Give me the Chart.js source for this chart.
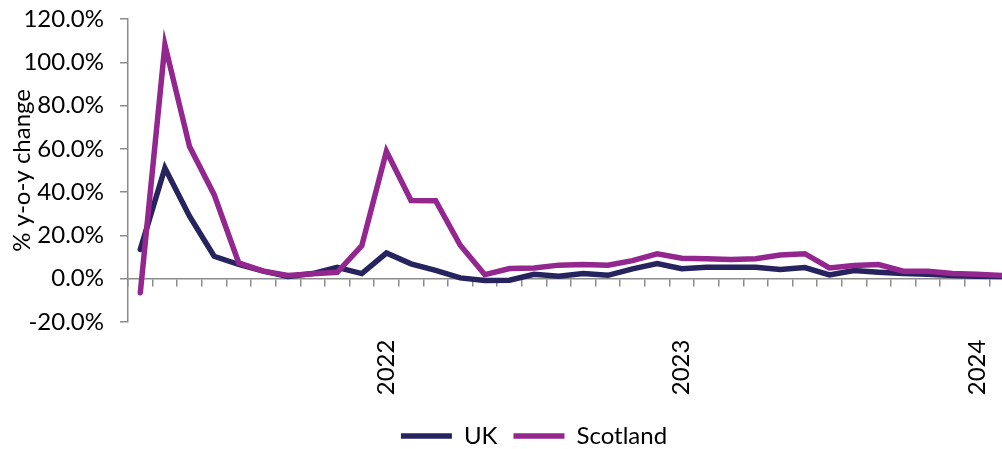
<!DOCTYPE html>
<html>
<head>
<meta charset="utf-8">
<script src="https://cdn.jsdelivr.net/npm/chart.js@4/dist/chart.umd.min.js"></script>
<style>
    html, body { margin: 0; padding: 0; background: #fff; overflow: hidden; }
    #wrap { width: 1016px; height: 458px; }
</style>
</head>
<body>
<div id="wrap"><canvas id="grafica"></canvas></div>
<script>
// Meses (marzo 2021 - febrero 2024)
const meses = [
    '2021-03', '2021-04', '2021-05', '2021-06', '2021-07', '2021-08', '2021-09', '2021-10', '2021-11', '2021-12',
    '2022-01', '2022-02', '2022-03', '2022-04', '2022-05', '2022-06', '2022-07', '2022-08', '2022-09', '2022-10', '2022-11', '2022-12',
    '2023-01', '2023-02', '2023-03', '2023-04', '2023-05', '2023-06', '2023-07', '2023-08', '2023-09', '2023-10', '2023-11', '2023-12',
    '2024-01', '2024-02'
];

// % y-o-y change
const uk = [13.5, 51.1, 28.8, 10.3, 6.5, 3.4, 1.0, 2.3, 5.2, 2.3, 11.8, 6.8, 3.8, 0.3, -0.9, -0.8, 2.0, 1.1, 2.3, 1.5,
    4.5, 6.9, 4.5, 5.2, 5.2, 5.2, 4.2, 5.1, 1.7, 3.7, 2.9, 2.3, 2.0, 1.4, 1.1, 0.9];
const scotland = [-6.6, 108.0, 61.0, 38.8, 7.2, 3.4, 1.4, 2.2, 2.9, 15.2, 58.8, 36.1, 36.0, 15.4, 1.8, 4.6, 4.9, 6.2, 6.5, 6.2,
    8.3, 11.4, 9.4, 9.1, 8.8, 9.2, 10.9, 11.5, 4.9, 6.0, 6.5, 3.4, 3.4, 2.3, 2.0, 1.4];

// Solo se muestra el año en enero
const etiquetasAnio = meses.map(m => m.endsWith('-01') ? m.slice(0, 4) : '');

const ejeGris = '#8c8c8c';
const fuente = "Lato, 'Open Sans', sans-serif";

// Mueve la leyenda un poco a la derecha, como en el original
const moverLeyenda = {
    id: 'moverLeyenda',
    afterLayout(chart) {
        chart.legend.left += 27;
        chart.legend.right += 27;
    }
};

new Chart(document.getElementById('grafica'), {
    type: 'line',
    data: {
        labels: meses,
        datasets: [{
            label: 'UK',
            data: uk,
            borderColor: '#27235f',
            backgroundColor: '#27235f',
            borderWidth: 5.5,
            borderCapStyle: 'round',
            pointRadius: 0,
            tension: 0,
            order: 1
        }, {
            label: 'Scotland',
            data: scotland,
            borderColor: '#93278f',
            backgroundColor: '#93278f',
            borderWidth: 5.5,
            borderCapStyle: 'round',
            pointRadius: 0,
            tension: 0,
            order: 0
        }]
    },
    plugins: [moverLeyenda],
    options: {
        responsive: true,
        maintainAspectRatio: false,
        animation: false,
        layout: { padding: { top: 19, right: 2, left: 0, bottom: 0 } },
        scales: {
            x: {
                type: 'category',
                position: { y: 0 },
                offset: true,
                grid: { offset: true, drawOnChartArea: false, drawTicks: true, tickLength: 7, color: ejeGris, lineWidth: 1.5 },
                border: { color: ejeGris, width: 1.5 },
                ticks: {
                    autoSkip: false,
                    maxRotation: 90,
                    minRotation: 90,
                    padding: 54,
                    color: '#000',
                    font: { family: fuente, size: 24 },
                    callback: (v, i) => etiquetasAnio[i]
                },
                afterFit: escala => { escala.paddingLeft = 0; escala.paddingRight = 0; }
            },
            y: {
                min: -20,
                max: 120,
                grid: { drawOnChartArea: false, drawTicks: true, tickLength: 8, color: ejeGris, lineWidth: 1.5 },
                border: { color: ejeGris, width: 1.5 },
                ticks: {
                    stepSize: 20,
                    padding: 16,
                    color: '#000',
                    font: { family: fuente, size: 24 },
                    callback: v => v.toFixed(1) + '%'
                },
                title: {
                    display: true,
                    text: '% y-o-y change',
                    color: '#000',
                    font: { family: fuente, size: 24 },
                    padding: { top: 8, bottom: 0 }
                },
                afterFit: escala => { escala.width = 128; escala.paddingTop = 0; escala.paddingBottom = 0; }
            }
        },
        plugins: {
            legend: {
                position: 'bottom',
                title: { display: true, text: '', font: { size: 1 }, padding: { top: 85, bottom: 0 } },
                labels: {
                    usePointStyle: true,
                    pointStyle: 'line',
                    pointStyleWidth: 51,
                    boxHeight: 24,
                    padding: 16,
                    color: '#000',
                    font: { family: fuente, size: 24 },
                    sort: (a, b) => a.datasetIndex - b.datasetIndex
                }
            },
            tooltip: { enabled: false }
        }
    }
});
</script>
</body>
</html>
